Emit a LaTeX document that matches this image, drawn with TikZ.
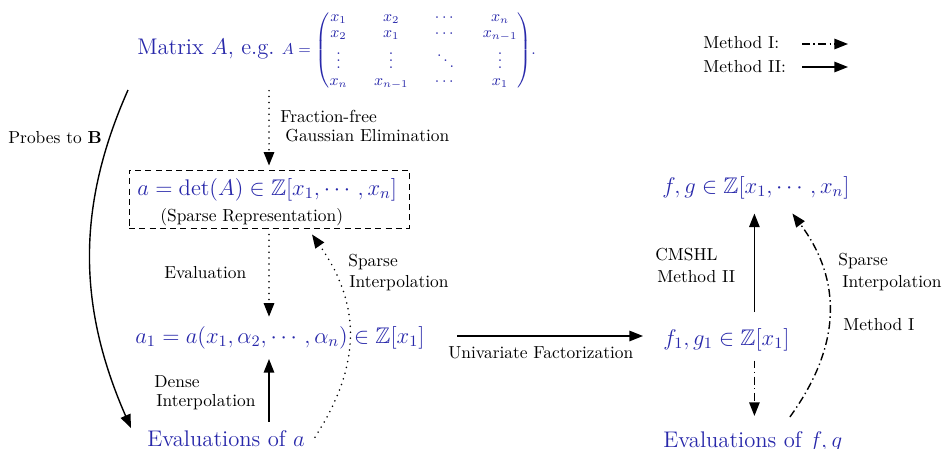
\RequirePackage{fix-cm}
\documentclass[tikz,border=0pt]{standalone}
\usepackage{amsmath,amssymb}
\usetikzlibrary{arrows.meta,calc}
\definecolor{mblue}{RGB}{40,40,170}
\tikzset{
  lab/.style={inner sep=0pt, anchor=base west, font=\fontsize{10}{12}\selectfont, text=black},
  bl/.style={inner sep=0pt, anchor=base west, font=\fontsize{13}{16}\selectfont, text=mblue},
  arr/.style={-{Triangle[length=7.8pt,width=6pt]}, line width=0.8pt},
  dotl/.style={arr, line cap=round, dash pattern=on 0pt off 3.4pt, line width=1pt},
  ddot/.style={arr, dash pattern=on 4.5pt off 2pt on 0.8pt off 2pt},
  boxst/.style={draw, line width=0.5pt, dash pattern=on 3.5pt off 2.4pt, inner sep=0pt},
}
\begin{document}
\begin{tikzpicture}[x=0.5747pt, y=-0.5747pt]
\useasboundingbox (0,0) rectangle (943,448);
% main nodes
\node[bl] (mat) at (137,54) {Matrix $A$, e.g.\ {\fontsize{9}{11}\selectfont\arraycolsep=7.6pt\renewcommand\arraystretch{0.86}$A=\begin{pmatrix} x_1 & x_2 & \cdots & x_n\\ x_2 & x_1 & \cdots & x_{n-1}\\ \vdots & \vdots & \ddots & \vdots\\ x_n & x_{n-1} & \cdots & x_1\end{pmatrix}$.}};
\node[boxst, minimum width=160.9pt, minimum height=33.3pt] (box) at (269,199) {};
\node[bl] (det) at (137,195) {$a=\det(A)\in\mathbb{Z}[x_1,\cdots,x_n]$};
\node[lab] (sprep) at (160,221) {(Sparse Representation)};
\node[bl] (a1) at (135,343) {$a_1=a(x_1,\alpha_2,\cdots,\alpha_n)\in\mathbb{Z}[x_1]$};
\node[bl] (evalA) at (147,446) {Evaluations of $a$};
\node[bl] (fg) at (662,193) {$f,g\in\mathbb{Z}[x_1,\cdots,x_n]$};
\node[bl] (f1) at (663,345) {$f_1,g_1\in\mathbb{Z}[x_1]$};
\node[bl] (evalFG) at (663,447) {Evaluations of $f,g$};
% labels
\node[lab] (probes) at (8,143) {Probes to \textbf{B}};
\node[lab] (ff1) at (280,122) {Fraction-free};
\node[lab] (ff2) at (285,141.7) {Gaussian Elimination};
\node[lab] (ev) at (164,278) {Evaluation};
\node[lab] (si1) at (348,266) {Sparse};
\node[lab] (si2) at (349,287) {Interpolation};
\node[lab] (di1) at (154,387) {Dense};
\node[lab] (di2) at (156,406) {Interpolation};
\node[lab] (uf) at (448,358) {Univariate Factorization};
\node[lab] (cm1) at (655,260) {CMSHL};
\node[lab] (cm2) at (657,282) {Method II};
\node[lab] (rs1) at (838,265) {Sparse};
\node[lab] (rs2) at (842,287) {Interpolation};
\node[lab] (rs3) at (843,330) {Method I};
\node[lab] (leg1) at (703,48) {Method I:};
\node[lab] (leg2) at (703,72) {Method II:};
\coordinate (l1a) at (802,44);
\coordinate (l1b) at (848,44);
\coordinate (l2a) at (802,67);
\coordinate (l2b) at (848,67);
\coordinate (p0) at (128,90);
\coordinate (ua) at (457,336);
% connectors
\draw[ddot] (l1a) -- (l1b);
\draw[arr] (l2a) -- (l2b);
\draw[dotl] (box.north |- mat.south) -- ($(box.north)+(0,-4)$);
\draw[dotl] ($(box.south)+(0,6)$) -- ($(box.south |- a1.north)+(0,-9)$);
\draw[arr] ($(box.south |- evalA.north)+(0,-8)$) -- ($(box.south |- a1.south)+(0,10)$);
\draw[arr] (p0) .. controls (77,205) and (77,305) .. ($(evalA.west)+(-16,-10)$);
\draw[dotl] ($(evalA.east)+(10,-1)$) .. controls (365,360) and (358,300) .. ($(box.south)+(43,6)$);
\draw[arr] (ua) -- ($(ua -| f1.west)+(-20,0)$);
\draw[arr] ($(fg.south |- f1.north)+(-1.5,-15.6)$) -- ($(fg.south)+(-1.5,14.5)$);
\draw[ddot] ($(fg.south |- f1.south)+(-1.5,9.5)$) -- ($(fg.south |- evalFG.north)+(-1.5,-14.8)$);
\draw[ddot] ($(evalFG.north)+(37,-13.8)$) .. controls (842,345) and (842,280) .. ($(fg.south)+(36.5,14.5)$);
\end{tikzpicture}
\end{document}
